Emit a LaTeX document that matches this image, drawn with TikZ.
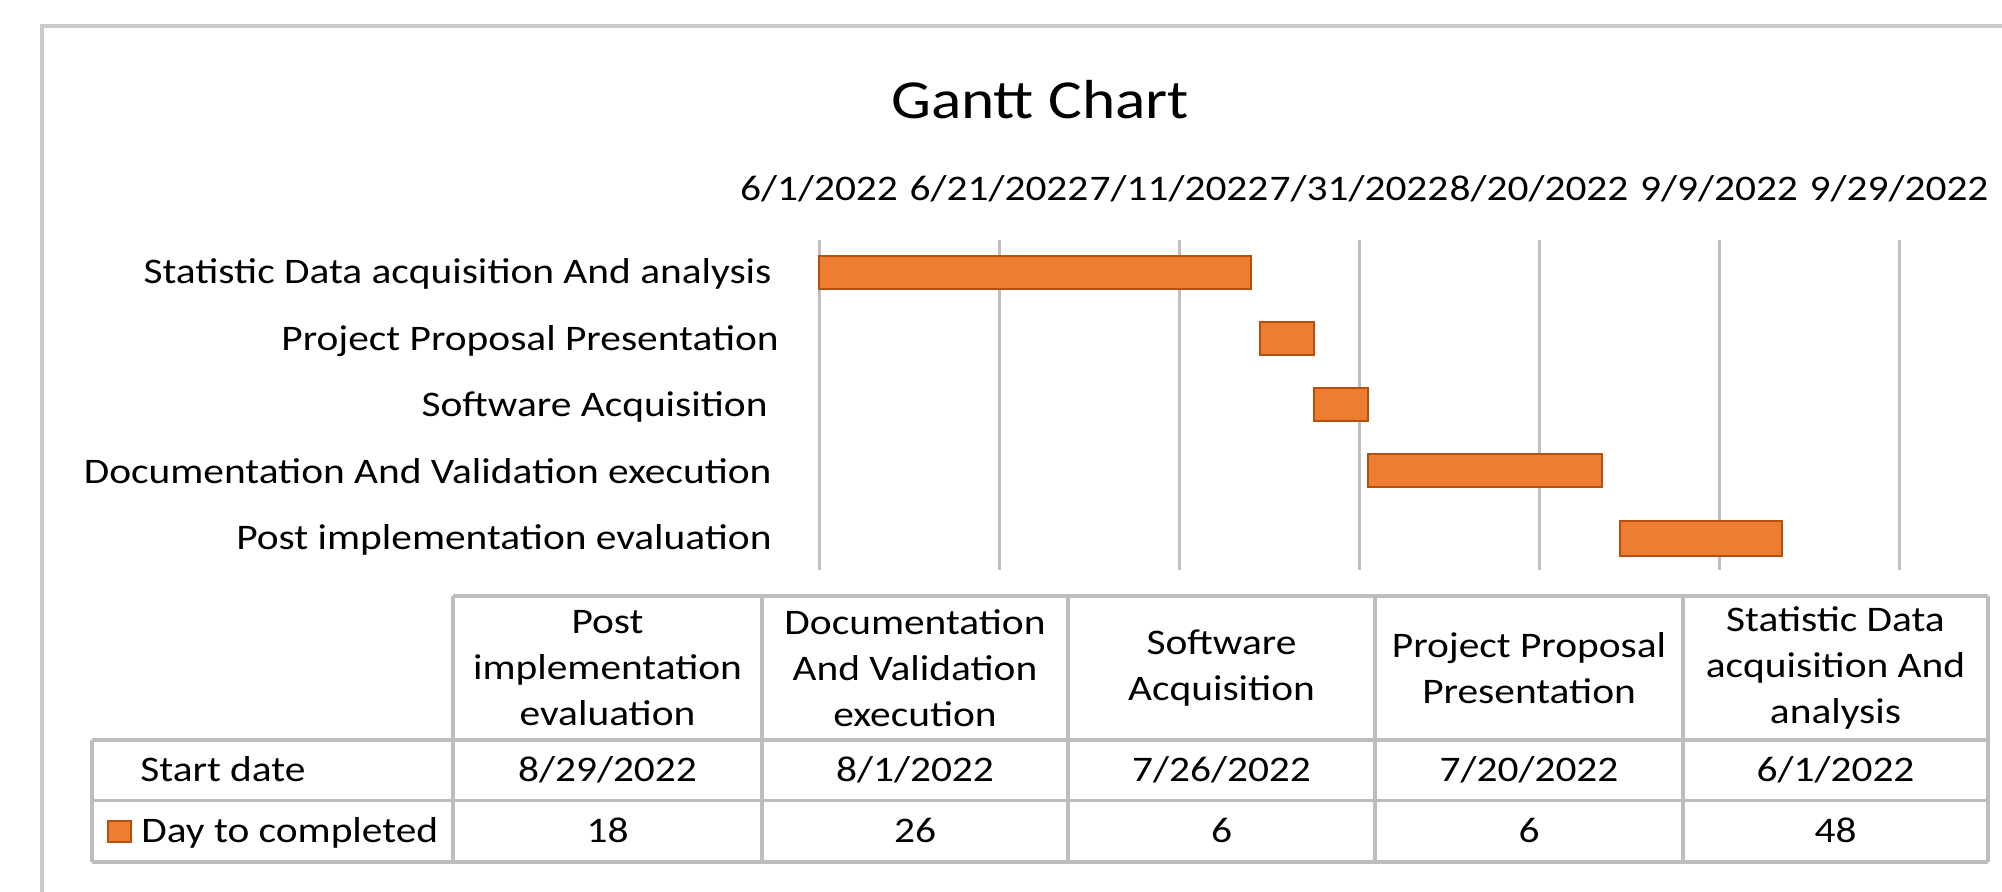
\documentclass[tikz,border=0pt]{standalone}
\usepackage{fontspec}
\setmainfont{Carlito}[FakeStretch=1.15]
\definecolor{framegray}{HTML}{C9C9C9}
\definecolor{gridgray}{HTML}{BFBFBF}
\definecolor{tablegray}{HTML}{BDBDBD}
\definecolor{barfill}{HTML}{ED7D31}
\definecolor{baredge}{HTML}{B5500F}
\tikzset{
  body/.style={font=\fontsize{18pt}{23pt}\selectfont, text=black, inner sep=0pt},
  line1/.style={body, yshift=-3.6pt},
  titletext/.style={font=\fontsize{27.5pt}{33pt}\selectfont, text=black, inner sep=0pt},
  gridline/.style={draw=gridgray, line width=1.5pt},
  tableline/.style={draw=tablegray, line width=1.6pt},
  framebox/.style={draw=framegray, line width=2pt},
  barbox/.style={fill=barfill, draw=baredge, line width=1.2pt},
  hdr/.style={body, align=center},
}
\begin{document}
\begin{tikzpicture}[x=0.5pt,y=-0.5pt]
\useasboundingbox (0,0) rectangle (2002,892);
% outer frame (only top and left visible)
\draw[framebox] (2010,26) -- (42,26) -- (42,900);
% title
\node[titletext] (title) at (1040,100) {Gantt Chart};
% gridlines
\foreach \i in {0,...,6}{
  \draw[gridline] (819+180*\i,240) -- (819+180*\i,570);
}
% date axis labels
\node[line1, anchor=mid] (d0) at (819,189) {6/1/2022};
\node[line1, anchor=mid] (d1) at (999,189) {6/21/2022};
\node[line1, anchor=mid] (d2) at (1179,189) {7/11/2022};
\node[line1, anchor=mid] (d3) at (1359,189) {7/31/2022};
\node[line1, anchor=mid] (d4) at (1539,189) {8/20/2022};
\node[line1, anchor=mid] (d5) at (1719,189) {9/9/2022};
\node[line1, anchor=mid] (d6) at (1899,189) {9/29/2022};
% category labels
\node[line1, anchor=mid east] (c1) at (772,272) {Statistic Data acquisition And analysis};
\node[line1, anchor=mid east] (c2) at (779,338.5) {Project Proposal Presentation};
\node[line1, anchor=mid east] (c3) at (768,405) {Software Acquisition};
\node[line1, anchor=mid east] (c4) at (772,471.5) {Documentation And Validation execution};
\node[line1, anchor=mid east] (c5) at (772,538) {Post implementation evaluation};
% bars
\path[barbox] (819,256) rectangle (1251,289);
\path[barbox] (1260,322) rectangle (1314,355);
\path[barbox] (1314,388) rectangle (1368,421);
\path[barbox] (1368,454) rectangle (1602,487);
\path[barbox] (1620,521) rectangle (1782,556);
% table lines
\draw[tableline] (453,596) -- (1988,596);
\draw[tableline] (92,740) -- (1988,740);
\draw[tableline] (92,800.5) -- (1988,800.5);
\draw[tableline] (92,862) -- (1988,862);
\draw[tableline] (92,740) -- (92,862);
\foreach \xx in {453,762,1068,1375,1683,1988}{
  \draw[tableline] (\xx,596) -- (\xx,862);
}
% header texts
\node[hdr] (h1) at (607.5,668) {Post\\implementation\\evaluation};
\node[hdr] (h2) at (915,668) {Documentation\\And Validation\\execution};
\node[hdr] (h3) at (1221.5,668) {Software\\Acquisition};
\node[hdr] (h4) at (1529,668) {Project Proposal\\Presentation};
\node[hdr] (h5) at (1835.5,668) {Statistic Data\\acquisition And\\analysis};
% row labels
\node[line1, anchor=mid west] (r1) at (140,770) {Start date};
\path[barbox, line width=0.8pt] (108,821) rectangle (131,842);
\node[line1, anchor=mid west] (r2) at (141,831) {Day to completed};
% start dates
\node[line1, anchor=mid] (s1) at (607.5,770) {8/29/2022};
\node[line1, anchor=mid] (s2) at (915,770) {8/1/2022};
\node[line1, anchor=mid] (s3) at (1221.5,770) {7/26/2022};
\node[line1, anchor=mid] (s4) at (1529,770) {7/20/2022};
\node[line1, anchor=mid] (s5) at (1835.5,770) {6/1/2022};
% durations
\node[line1, anchor=mid] (n1) at (607.5,831) {18};
\node[line1, anchor=mid] (n2) at (915,831) {26};
\node[line1, anchor=mid] (n3) at (1221.5,831) {6};
\node[line1, anchor=mid] (n4) at (1529,831) {6};
\node[line1, anchor=mid] (n5) at (1835.5,831) {48};
\end{tikzpicture}
\end{document}
